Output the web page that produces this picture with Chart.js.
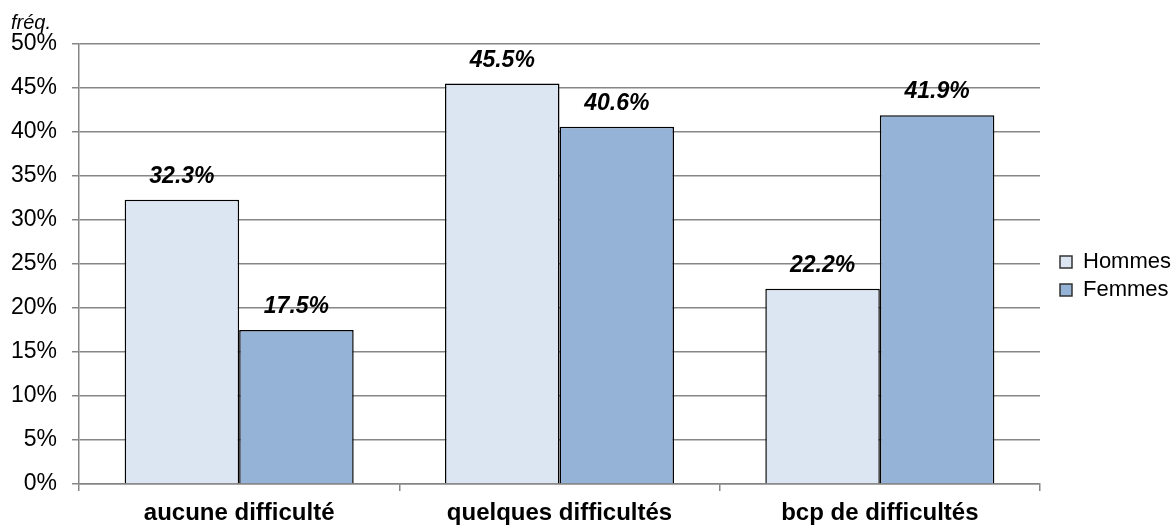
<!DOCTYPE html>
<html>
<head>
<meta charset="utf-8">
<script src="https://cdn.jsdelivr.net/npm/chart.js@4.4.1/dist/chart.umd.min.js"></script>
<style>
  body { margin: 0; background: #fff; }
</style>
</head>
<body>
<canvas id="grafico" width="1173" height="525"></canvas>
<script>
const categories = ["aucune difficulté", "quelques difficultés", "bcp de difficultés"];
const hommes = [32.3, 45.5, 22.2];
const femmes = [17.5, 40.6, 41.9];
const yTicks = [0, 5, 10, 15, 20, 25, 30, 35, 40, 45, 50];

const gris = "#868686";
const police = "'Liberation Sans', Arial, sans-serif";

// étiquettes au-dessus des barres
const etiquettes = {
  id: "etiquettes",
  afterDatasetsDraw(chart) {
    const ctx = chart.ctx;
    ctx.save();
    ctx.font = "italic bold 23px " + police;
    ctx.fillStyle = "#000";
    ctx.textAlign = "center";
    ctx.textBaseline = "alphabetic";
    chart.data.datasets.forEach((ds, i) => {
      chart.getDatasetMeta(i).data.forEach((bar, j) => {
        ctx.fillText(ds.data[j].toFixed(1) + "%", bar.x, bar.y - 17);
      });
    });
    ctx.restore();
  }
};

new Chart(document.getElementById("grafico"), {
  type: "bar",
  data: {
    labels: categories,
    datasets: [
      {
        label: "Hommes",
        data: hommes,
        backgroundColor: "#DCE6F2",
        borderColor: "#000",
        borderWidth: 1.5
      },
      {
        label: "Femmes",
        data: femmes,
        backgroundColor: "#95B3D7",
        borderColor: "#000",
        borderWidth: 1.5
      }
    ]
  },
  options: {
    responsive: false,
    animation: false,
    datasets: {
      bar: { categoryPercentage: 0.715, barPercentage: 1.0 }
    },
    layout: {
      padding: { top: 11, left: 11, right: 0, bottom: 0 }
    },
    plugins: {
      title: {
        display: true,
        text: "fréq.",
        align: "start",
        color: "#000",
        font: { family: police, size: 20, style: "italic", weight: "normal" },
        padding: { top: 0, bottom: 9 }
      },
      legend: {
        position: "right",
        maxWidth: 119,
        title: {
          display: true,
          text: " ",
          font: { size: 10 },
          padding: { top: 2, bottom: 2 }
        },
        labels: {
          color: "#000",
          boxWidth: 12,
          boxHeight: 12,
          padding: 6,
          font: { family: police, size: 22 },
          generateLabels(chart) {
            return chart.data.datasets.map((ds, i) => ({
              text: ds.label,
              fillStyle: ds.backgroundColor,
              strokeStyle: "#333",
              fontColor: "#000",
              lineWidth: 1.5,
              datasetIndex: i
            }));
          }
        }
      },
      tooltip: { enabled: false }
    },
    scales: {
      x: {
        afterFit(scale) {
          scale.paddingLeft = 0;
          scale.paddingRight = 0;
          scale.height = 41;
        },
        grid: {
          drawOnChartArea: false,
          drawTicks: true,
          tickLength: 7,
          color: gris,
          lineWidth: 1.5
        },
        border: { display: true, color: gris, width: 1.5 },
        ticks: {
          color: "#000",
          padding: 8,
          font: { family: police, size: 24, weight: "bold" }
        }
      },
      y: {
        min: 0,
        max: 50,
        afterBuildTicks(scale) {
          scale.ticks = yTicks.map((v) => ({ value: v }));
        },
        afterFit(scale) {
          scale.width = 68;
        },
        grid: {
          color: gris,
          lineWidth: 1.5,
          drawTicks: true,
          tickLength: 7
        },
        border: { display: true, color: gris, width: 1.5 },
        ticks: {
          color: "#000",
          padding: 15,
          font: { family: police, size: 23 },
          callback: (v) => v + "%"
        }
      },
      marge: {
        type: "linear",
        position: "right",
        display: true,
        grid: { display: false },
        border: { display: false },
        ticks: { display: false },
        afterFit(scale) {
          scale.width = 14;
        }
      }
    }
  },
  plugins: [etiquettes]
});
</script>
</body>
</html>
